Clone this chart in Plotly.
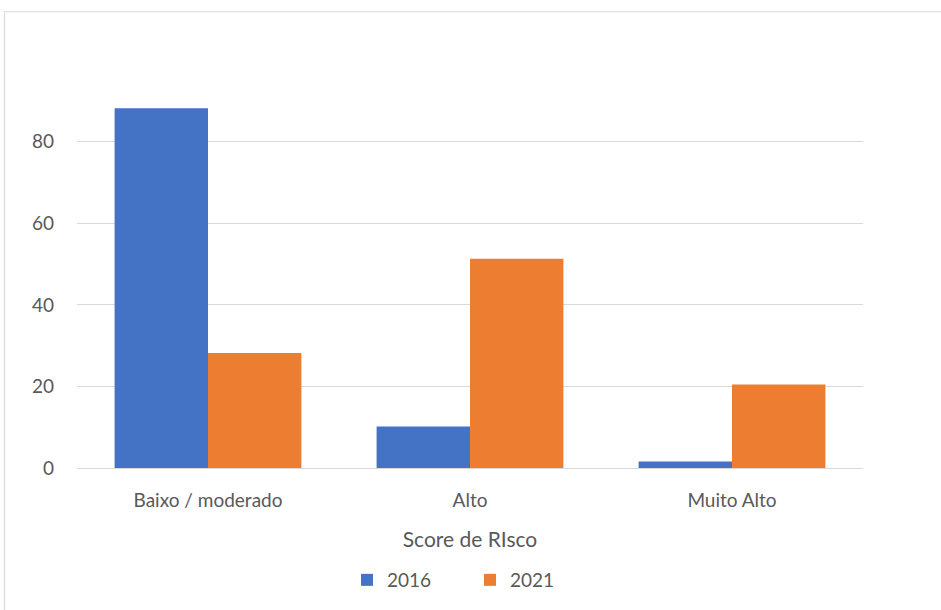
import plotly.graph_objects as go

# Risk-score distribution (percent of cases) for two survey years
categories = ["Baixo / moderado", "Alto", "Muito Alto"]
values_2016 = [88.2, 10.2, 1.6]
values_2021 = [28.2, 51.3, 20.5]
series_names = ["2016", "2021"]
y_ticks = [0, 20, 40, 60, 80]

BLUE = "#4472C4"
ORANGE = "#ED7D31"
TEXT = "#595959"
GRID = "#D9D9D9"
FONT = "Lato, 'Open Sans', sans-serif"

fig = go.Figure()
fig.add_trace(go.Bar(name=series_names[0], x=categories, y=values_2016,
                     marker=dict(color=BLUE, line=dict(width=0))))
fig.add_trace(go.Bar(name=series_names[1], x=categories, y=values_2021,
                     marker=dict(color=ORANGE, line=dict(width=0))))

W, H = 941, 610
L, R, T, B = 77, 78, 101, 141
plot_w = W - L - R
plot_h = H - T - B

def px_x(p):
    return (p - L) / plot_w

def px_y(p):
    return (H - B - p) / plot_h

# chart outline (runs past the right and bottom edges of the page)
fig.add_shape(type="rect", xref="paper", yref="paper",
              x0=px_x(4.5), x1=px_x(W + 10), y0=px_y(H + 10), y1=px_y(11.5),
              line=dict(color=GRID, width=1.2), fillcolor="rgba(0,0,0,0)",
              layer="below")

fig.update_layout(
    width=W, height=H,
    margin=dict(l=L, r=R, t=T, b=B, pad=0),
    paper_bgcolor="white", plot_bgcolor="white",
    barmode="group", bargap=0.287, bargroupgap=0,
    font=dict(family=FONT, color=TEXT, size=19),
    xaxis=dict(
        title=dict(text="Score de RIsco", font=dict(size=21, color=TEXT), standoff=22),
        tickfont=dict(size=19, color=TEXT),
        showgrid=False, showline=False, zeroline=False, ticks="",
        ticklabelstandoff=19,
    ),
    yaxis=dict(
        range=[0, 90], tickvals=y_ticks, ticktext=[str(v) for v in y_ticks],
        tickfont=dict(size=19, color=TEXT),
        showgrid=True, gridcolor=GRID, gridwidth=1.3,
        zeroline=True, zerolinecolor=GRID, zerolinewidth=1.3,
        showline=False, ticks="", ticklabelstandoff=22,
    ),
    legend=dict(
        orientation="h", x=0.5, xanchor="center", y=px_y(580), yanchor="middle",
        font=dict(size=19, color=TEXT), entrywidth=78, traceorder="normal",
        bgcolor="rgba(0,0,0,0)",
    ),
)

fig.write_html("out.html")
